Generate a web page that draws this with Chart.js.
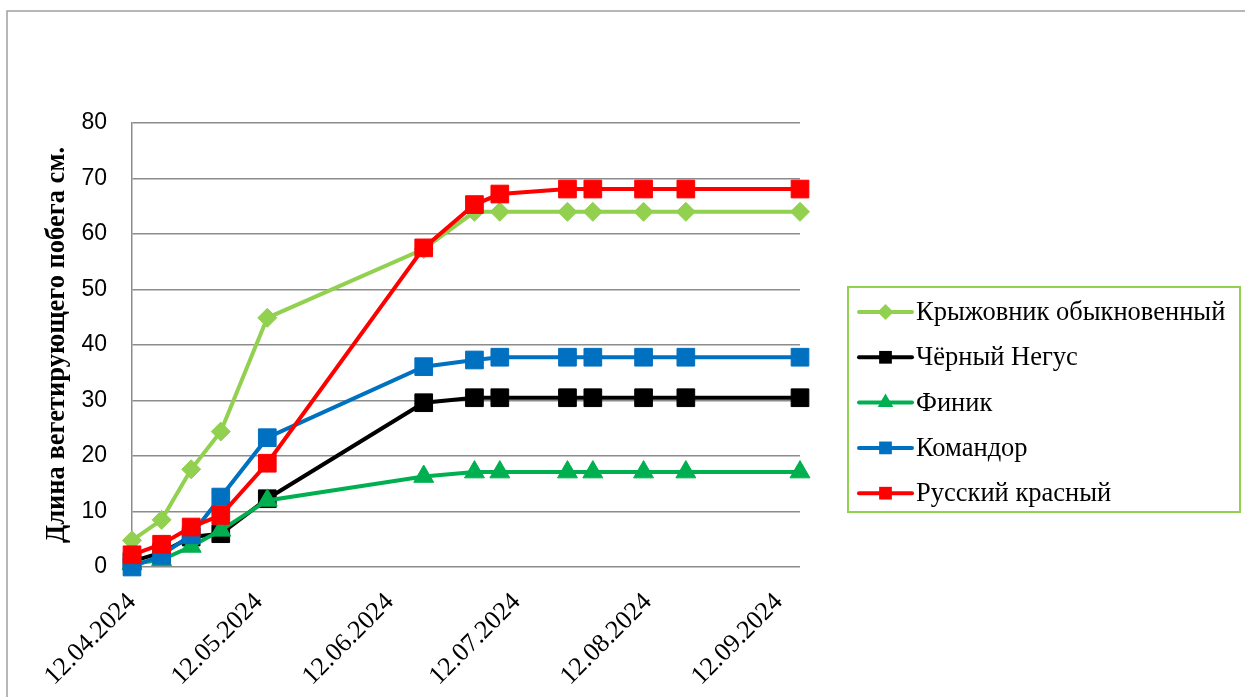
<!DOCTYPE html>
<html>
<head>
<meta charset="utf-8">
<script src="https://cdn.jsdelivr.net/npm/chart.js@4/dist/chart.umd.min.js"></script>
<style>
  html, body { margin: 0; padding: 0; background: #ffffff; }
  canvas { display: block; }
</style>
</head>
<body>
<canvas id="chart" width="1245" height="697"></canvas>
<script>
// Measurement dates (DD.MM.YYYY)
const measureDates = [
  '12.04.2024', '19.04.2024', '26.04.2024', '03.05.2024', '14.05.2024',
  '20.06.2024', '02.07.2024', '08.07.2024', '24.07.2024', '30.07.2024',
  '11.08.2024', '21.08.2024', '17.09.2024'
];

// Dates shown on the horizontal axis
const tickDates = ['12.04.2024', '12.05.2024', '12.06.2024', '12.07.2024', '12.08.2024', '12.09.2024'];

// Shoot length, cm
const kryzhovnik   = [4.8, 8.5, 17.6, 24.4, 44.9, 57.3, 64.0, 64.0, 64.0, 64.0, 64.0, 64.0, 64.0];
const chernyNegus  = [1.0, 2.6, 5.4, 6.0, 12.3, 29.6, 30.5, 30.5, 30.5, 30.5, 30.5, 30.5, 30.5];
const finik        = [0.6, 1.3, 3.7, 6.6, 12.0, 16.3, 17.1, 17.1, 17.1, 17.1, 17.1, 17.1, 17.1];
const komandor     = [0.0, 2.1, 5.8, 12.6, 23.3, 36.1, 37.3, 37.8, 37.8, 37.8, 37.8, 37.8, 37.8];
const russkiyKrasn = [2.2, 4.1, 7.2, 9.3, 18.7, 57.5, 65.3, 67.2, 68.1, 68.1, 68.1, 68.1, 68.1];

const seriesNames = ['Крыжовник обыкновенный', 'Чёрный Негус', 'Финик', 'Командор', 'Русский красный'];
const yTitle = 'Длина вегетирующего побега см.';

// Day number counted from the first measurement
function dayNumber(s) {
  const [d, m, y] = s.split('.').map(Number);
  const [d0, m0, y0] = measureDates[0].split('.').map(Number);
  return Math.round((Date.UTC(y, m - 1, d) - Date.UTC(y0, m0 - 1, d0)) / 86400000);
}
const tickLabelByDay = {};
tickDates.forEach(s => { tickLabelByDay[dayNumber(s)] = s; });

function points(values) {
  return values.map((v, i) => ({ x: dayNumber(measureDates[i]), y: v }));
}

const SERIF = '"Liberation Serif", "Times New Roman", serif';

const styles = [
  { color: '#92d050', pointStyle: 'rectRot',  radius: 9.5,  order: 4, legendRadius: 8 },
  { color: '#000000', pointStyle: 'rect',     radius: 12.5, order: 3, legendRadius: 9 },
  { color: '#00b050', pointStyle: 'triangle', radius: 11.5, order: 2, legendRadius: 9 },
  { color: '#0070c0', pointStyle: 'rect',     radius: 12.5, order: 1, legendRadius: 9 },
  { color: '#ff0000', pointStyle: 'rect',     radius: 12.5, order: 0, legendRadius: 9 }
];
const seriesValues = [kryzhovnik, chernyNegus, finik, komandor, russkiyKrasn];

const datasets = seriesValues.map((vals, i) => ({
  label: seriesNames[i],
  data: points(vals),
  borderColor: styles[i].color,
  backgroundColor: styles[i].color,
  borderWidth: 4,
  pointStyle: styles[i].pointStyle,
  pointRadius: styles[i].radius,
  pointBorderWidth: 1,
  pointBorderColor: styles[i].color,
  pointBackgroundColor: styles[i].color,
  order: styles[i].order,
  tension: 0,
  clip: false
}));

const GRID = '#8c8c8c';

// White page with the thin outer frame
const framePlugin = {
  id: 'frame',
  beforeDraw(chart) {
    const ctx = chart.ctx;
    ctx.save();
    ctx.fillStyle = '#ffffff';
    ctx.fillRect(0, 0, chart.width, chart.height);
    ctx.strokeStyle = '#a0a0a0';
    ctx.lineWidth = 1.5;
    ctx.strokeRect(7, 11, chart.width + 20, chart.height + 20);
    ctx.restore();
  }
};

// Boxed legend to the right of the plot
const legendBoxPlugin = {
  id: 'legendBox',
  afterDraw(chart) {
    const ctx = chart.ctx;
    const box = { x: 848, y: 287, w: 392, h: 225 };
    ctx.save();
    ctx.strokeStyle = '#92d050';
    ctx.lineWidth = 2;
    ctx.strokeRect(box.x, box.y, box.w, box.h);
    const rowH = 45.3;
    chart.data.datasets.forEach((ds, i) => {
      const cy = box.y + 25 + i * rowH;
      ctx.strokeStyle = ds.borderColor;
      ctx.lineWidth = 4;
      ctx.lineCap = 'round';
      ctx.beginPath();
      ctx.moveTo(859, cy);
      ctx.lineTo(912, cy);
      ctx.stroke();
      ctx.fillStyle = ds.borderColor;
      Chart.helpers.drawPoint(ctx, {
        pointStyle: ds.pointStyle,
        radius: styles[i].legendRadius,
        rotation: 0,
        borderWidth: 0
      }, 885.5, cy);
      ctx.fillStyle = '#000000';
      ctx.font = '26.5px ' + SERIF;
      ctx.textAlign = 'left';
      ctx.textBaseline = 'middle';
      ctx.fillText(ds.label, 916, cy + 1);
    });
    ctx.restore();
  }
};

new Chart(document.getElementById('chart'), {
  type: 'line',
  data: { datasets },
  plugins: [framePlugin, legendBoxPlugin],
  options: {
    responsive: false,
    devicePixelRatio: 1,
    animation: false,
    events: [],
    layout: { padding: { top: 123, right: 445, left: 0, bottom: 0 } },
    plugins: { legend: { display: false }, tooltip: { enabled: false } },
    scales: {
      x: {
        type: 'linear',
        min: dayNumber(measureDates[0]),
        max: dayNumber(measureDates[measureDates.length - 1]),
        afterBuildTicks(scale) {
          scale.ticks = tickDates.map(s => ({ value: dayNumber(s) }));
        },
        afterFit(scale) { scale.height = 130; },
        grid: { display: false, drawTicks: false },
        border: { display: false },
        ticks: {
          autoSkip: false,
          minRotation: 45,
          maxRotation: 45,
          padding: 20,
          color: '#000000',
          font: { family: SERIF, size: 26 },
          callback: (v) => tickLabelByDay[v] || ''
        }
      },
      y: {
        min: 0,
        max: 80,
        afterFit(scale) { scale.width = 132; },
        grid: { color: GRID, lineWidth: 1.5, drawTicks: false },
        border: { display: true, color: GRID, width: 1.5 },
        ticks: {
          stepSize: 10,
          padding: 25,
          color: '#000000',
          font: { family: '"Liberation Sans", Arial, sans-serif', size: 23 }
        },
        title: {
          display: true,
          text: yTitle,
          color: '#000000',
          padding: { top: 41, bottom: 0 },
          font: { family: SERIF, size: 26.5, weight: 'bold' }
        }
      }
    }
  }
});
</script>
</body>
</html>
